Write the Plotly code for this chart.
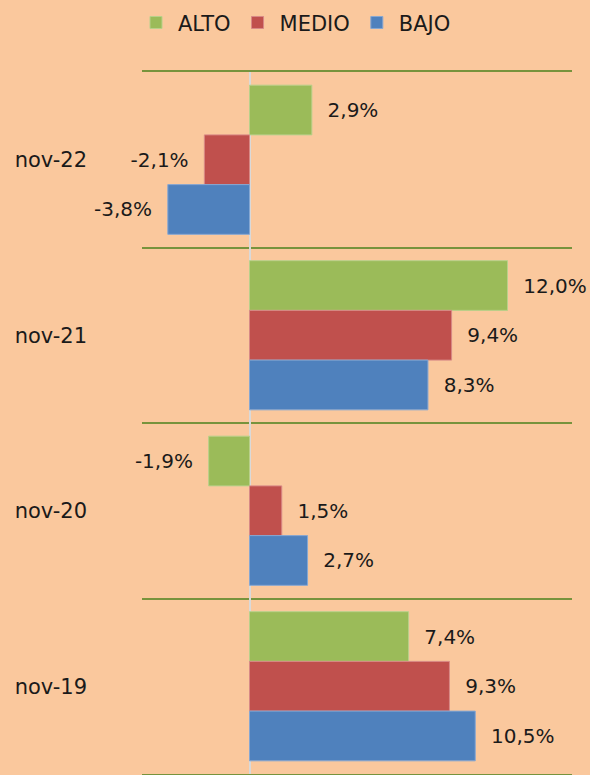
import plotly.graph_objects as go

categories = ["nov-22", "nov-21", "nov-20", "nov-19"]
series_names = ["ALTO", "MEDIO", "BAJO"]
alto = [2.9, 12.0, -1.9, 7.4]
medio = [-2.1, 9.4, 1.5, 9.3]
bajo = [-3.8, 8.3, 2.7, 10.5]
colors = ["#9BBB59", "#C0504D", "#4F81BD"]
edge = ["#B9D08A", "#D88986", "#86A7D2"]

FONT = "DejaVu Sans"
NB = "\u00a0"
GRID = "#77933C"

fig = go.Figure()
for name, vals, c, e in zip(series_names, [alto, medio, bajo], colors, edge):
    tt = [(NB * 2 + "%{x:.1f}%") if v >= 0 else ("%{x:.1f}%" + NB * 2) for v in vals]
    fig.add_trace(go.Bar(
        name=name, y=categories, x=vals, orientation="h",
        marker=dict(color=c, line=dict(color=e, width=1)),
        texttemplate=tt, textposition="outside", cliponaxis=False,
        textfont=dict(family=FONT, size=20, color="#1a1a1a"),
        hoverinfo="skip",
    ))

bg = "#FAC89D"
fig.update_layout(
    width=590, height=775,
    paper_bgcolor=bg, plot_bgcolor=bg,
    separators=",.",
    barmode="group", bargap=0.15, bargroupgap=0,
    margin=dict(l=142, r=18, t=72, b=1),
    font=dict(family=FONT, size=19, color="#1a1a1a"),
    showlegend=True,
    legend=dict(orientation="h", x=0.5, xanchor="center", xref="container",
                y=0.997, yanchor="top", yref="container",
                font=dict(family=FONT, size=21, color="#1a1a1a"),
                itemwidth=34, traceorder="normal", bgcolor="rgba(0,0,0,0)"),
    xaxis=dict(range=[-5, 15], showgrid=False, showticklabels=False, ticks="",
               zeroline=True, zerolinecolor="#D9D9D9", zerolinewidth=2, fixedrange=True,
               showline=True, mirror=True, linecolor=GRID, linewidth=2),
    yaxis=dict(categoryorder="array", categoryarray=categories, autorange="reversed",
               tickson="boundaries", showgrid=True, gridcolor=GRID, gridwidth=2,
               ticks="", ticklabelstandoff=54, zeroline=False, showline=False,
               fixedrange=True,
               tickfont=dict(family=FONT, size=21, color="#1a1a1a")),
)
fig.write_html("out.html", config={"displayModeBar": False, "staticPlot": True},
               post_script="document.body.style.margin='0';document.body.style.background='%s';" % bg)
